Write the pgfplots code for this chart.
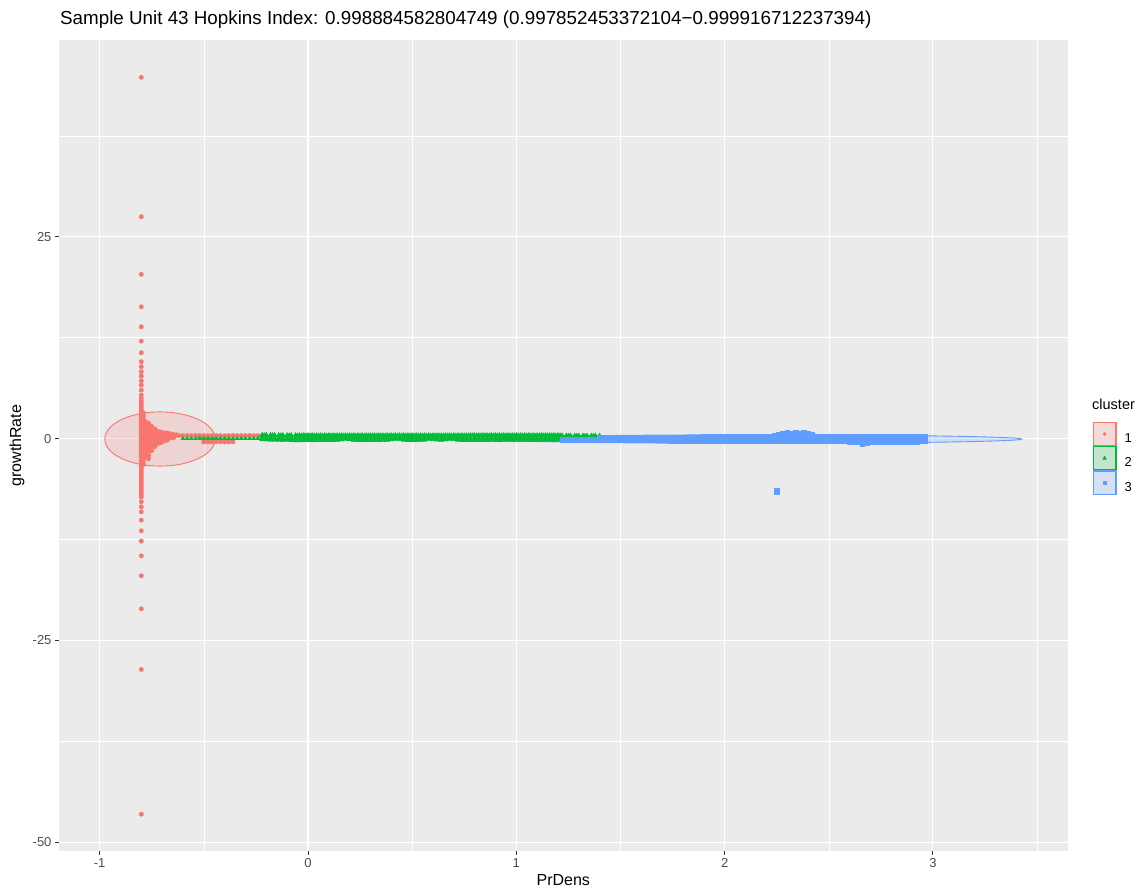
\documentclass[border=0pt]{standalone}
\usepackage{fontspec}
\setmainfont{Liberation Sans}
\usepackage{pgfplots}
\usepackage{pgfplotstable}
\pgfplotsset{compat=1.18}

\definecolor{c1}{HTML}{F8766D}
\definecolor{c2}{HTML}{00BA38}
\definecolor{c3}{HTML}{619CFF}
\definecolor{panel}{HTML}{EBEBEB}
\definecolor{keybg}{HTML}{F2F2F2}
\definecolor{ticktext}{HTML}{4D4D4D}
\definecolor{tickline}{HTML}{333333}

% cluster 1: the tall column at PrDens ~ -0.8, its core and the short tails
\pgfplotstableread{
x y
-0.80 44.76
-0.80 27.48
-0.80 20.35
-0.80 16.33
-0.80 13.85
-0.80 12.08
-0.80 10.63
-0.80 9.52
-0.80 8.90
-0.80 8.28
-0.80 7.74
-0.80 7.16
-0.80 6.63
-0.80 6.01
-0.80 5.39
-0.80 5.0
-0.80 4.7
-0.80 4.4
-0.80 4.1
-0.80 3.8
-0.80 3.5
-0.80 3.2
-0.80 2.9
-0.80 2.6
-0.80 2.3
-0.80 2.0
-0.80 1.7
-0.80 1.4
-0.80 1.1
-0.80 0.8
-0.80 0.5
-0.80 0.2
-0.80 -0.1
-0.80 -0.4
-0.80 -0.7
-0.80 -1.0
-0.80 -1.3
-0.80 -1.6
-0.80 -1.9
-0.80 -2.2
-0.80 -2.5
-0.80 -2.8
-0.80 -3.1
-0.80 -3.4
-0.80 -3.7
-0.80 -4.0
-0.80 -4.3
-0.80 -4.6
-0.80 -4.9
-0.80 -5.2
-0.80 -5.5
-0.80 -5.8
-0.80 -6.1
-0.80 -6.4
-0.80 -6.7
-0.80 -7.0
-0.80 -7.25
-0.80 -7.83
-0.80 -8.45
-0.80 -9.07
-0.80 -10.10
-0.80 -11.43
-0.80 -12.70
-0.80 -14.52
-0.80 -17.00
-0.80 -21.09
-0.80 -28.60
-0.80 -46.53
-0.79 3.2
-0.79 2.8
-0.79 2.4
-0.79 2.0
-0.79 1.6
-0.79 1.2
-0.79 0.8
-0.79 0.4
-0.79 0.0
-0.79 -0.4
-0.79 -0.8
-0.79 -1.2
-0.79 -1.6
-0.79 -2.0
-0.79 -2.4
-0.79 -2.8
-0.79 -3.2
-0.780 2.1
-0.780 1.7
-0.780 1.3
-0.780 0.9
-0.780 0.5
-0.780 0.1
-0.780 -0.3
-0.780 -0.7
-0.780 -1.1
-0.780 -1.5
-0.780 -1.9
-0.780 -2.3
-0.765 1.9
-0.765 1.4
-0.765 0.9
-0.765 0.4
-0.765 -0.1
-0.765 -0.6
-0.765 -1.1
-0.765 -1.6
-0.765 -2.1
-0.765 -2.5
-0.750 1.5
-0.750 1.0
-0.750 0.5
-0.750 0.0
-0.750 -0.5
-0.750 -1.0
-0.750 -1.5
-0.735 1.2
-0.735 0.7
-0.735 0.2
-0.735 -0.3
-0.735 -0.8
-0.735 -1.0
-0.720 0.9
-0.720 0.4
-0.720 -0.1
-0.720 -0.6
-0.705 0.8
-0.705 0.3
-0.705 -0.2
-0.705 -0.5
-0.690 0.7
-0.690 0.2
-0.690 -0.3
-0.675 0.7
-0.675 0.2
-0.675 -0.2
-0.660 0.6
-0.660 0.1
-0.645 0.5
-0.645 0.1
-0.630 0.45
-0.62 0.38
-0.60 0.37
-0.58 0.38
-0.56 0.36
-0.54 0.37
-0.52 0.38
-0.50 0.37
-0.48 0.36
-0.46 0.37
-0.44 0.38
-0.42 0.37
-0.40 0.36
-0.38 0.37
-0.36 0.38
-0.34 0.37
-0.32 0.36
-0.30 0.37
-0.28 0.38
-0.26 0.37
-0.24 0.37
-0.50 -0.40
-0.48 -0.41
-0.46 -0.40
-0.44 -0.39
-0.42 -0.40
-0.40 -0.41
-0.38 -0.40
-0.36 -0.40
}\clusterone

% cluster 2: thin lead-in, then the band in rows (top, middle, bottom)
\pgfplotstableread{
x y
-0.60 0.00
-0.58 0.00
-0.56 0.01
-0.54 0.00
-0.52 0.00
-0.50 -0.01
-0.48 0.00
-0.46 0.00
-0.44 0.01
-0.42 0.00
-0.40 0.00
-0.38 0.00
-0.36 -0.01
-0.34 0.00
-0.32 0.00
-0.30 0.01
-0.28 0.00
-0.26 0.00
-0.24 0.00
}\clustertwolead

\pgfplotstableread{
x t m b
-0.22 0.44 0.12 -0.10
-0.20 0.44 0.12 -0.12
-0.18 0.43 0.11 -0.15
-0.16 0.43 0.11 -0.17
-0.14 0.42 0.11 -0.19
-0.12 0.42 0.10 -0.20
-0.10 0.41 0.10 -0.15
-0.08 0.41 0.10 -0.22
-0.06 0.40 0.10 -0.23
-0.04 0.40 0.10 -0.23
-0.02 0.40 0.09 -0.22
0.00 0.40 0.09 -0.22
0.02 0.40 0.09 -0.23
0.04 0.39 0.09 -0.22
0.06 0.39 0.09 -0.22
0.08 0.39 0.09 -0.21
0.10 0.39 0.09 -0.22
0.12 0.39 0.09 -0.21
0.14 0.39 0.09 -0.20
0.16 0.39 0.09 -0.12
0.18 0.39 0.09 -0.05
0.20 0.39 0.09 -0.09
0.22 0.39 0.09 -0.20
0.24 0.39 0.09 -0.21
0.26 0.39 0.09 -0.22
0.28 0.39 0.09 -0.22
0.30 0.39 0.09 -0.21
0.32 0.39 0.09 -0.22
0.34 0.39 0.09 -0.21
0.36 0.39 0.09 -0.20
0.38 0.39 0.09 -0.18
0.40 0.39 0.09 -0.10
0.42 0.39 0.09 -0.04
0.44 0.39 0.09 -0.08
0.46 0.39 0.09 -0.19
0.48 0.39 0.09 -0.21
0.50 0.39 0.09 -0.22
0.52 0.39 0.09 -0.21
0.54 0.39 0.09 -0.20
0.56 0.39 0.09 -0.15
0.58 0.39 0.09 -0.05
0.60 0.39 0.09 -0.06
0.62 0.39 0.09 -0.16
0.64 0.39 0.09 -0.20
0.66 0.39 0.09 -0.12
0.68 0.39 0.09 -0.04
0.70 0.39 0.09 -0.08
0.72 0.39 0.09 -0.19
0.74 0.39 0.09 -0.21
0.76 0.39 0.09 -0.22
0.78 0.40 0.09 -0.21
0.80 0.40 0.09 -0.21
0.82 0.40 0.09 -0.22
0.84 0.40 0.09 -0.21
0.86 0.40 0.09 -0.21
0.88 0.40 0.09 -0.20
0.90 0.40 0.09 -0.21
0.92 0.40 0.09 -0.21
0.94 0.40 0.09 -0.20
0.96 0.40 0.09 -0.20
0.98 0.40 0.09 -0.21
1.00 0.40 0.09 -0.20
1.02 0.40 0.09 -0.20
1.04 0.40 0.09 -0.20
1.06 0.40 0.09 -0.19
1.08 0.40 0.09 -0.20
1.10 0.40 0.09 -0.19
1.12 0.40 0.09 -0.19
1.14 0.40 0.09 -0.19
1.16 0.40 0.09 -0.18
1.18 0.40 0.09 -0.18
1.20 0.40 0.09 -0.17
1.22 0.38 0.12 nan
1.24 0.36 nan nan
1.26 0.36 nan nan
1.28 0.35 nan nan
1.30 0.35 nan nan
1.32 0.35 nan nan
1.34 0.34 nan nan
1.36 0.34 nan nan
1.38 0.34 nan nan
1.40 0.33 nan nan
}\clustertwo

% cluster 2: second top row, staggered between the first
\pgfplotstableread{
x y
-0.21 0.40
-0.17 0.39
-0.13 0.38
-0.09 0.37
-0.05 0.36
-0.03 0.36
-0.01 0.36
0.01 0.36
0.03 0.36
0.05 0.36
0.07 0.36
0.09 0.36
0.11 0.36
0.13 0.36
0.15 0.36
0.17 0.36
0.19 0.36
0.21 0.36
0.23 0.36
0.25 0.36
0.27 0.36
0.29 0.36
0.31 0.36
0.33 0.36
0.35 0.36
0.37 0.36
0.39 0.36
0.41 0.36
0.43 0.36
0.45 0.36
0.47 0.36
0.49 0.36
0.51 0.36
0.53 0.36
0.55 0.36
0.57 0.36
0.59 0.36
0.61 0.36
0.63 0.36
0.65 0.36
0.67 0.36
0.69 0.36
0.71 0.36
0.73 0.36
0.75 0.36
0.77 0.37
0.79 0.37
0.81 0.37
0.83 0.37
0.85 0.37
0.87 0.37
0.89 0.37
0.91 0.37
0.93 0.37
0.95 0.37
0.97 0.37
0.99 0.37
1.01 0.37
1.03 0.37
1.05 0.37
1.07 0.37
1.09 0.37
1.11 0.37
1.13 0.37
1.15 0.37
1.17 0.37
1.19 0.37
1.21 0.36
1.25 0.33
1.29 0.32
1.33 0.31
1.37 0.31
}\clustertwotop

% cluster 3: the band in three rows, plus one outlier
\pgfplotstableread{
x t m b
1.22 nan -0.06 -0.18
1.24 nan -0.06 -0.18
1.26 nan -0.06 -0.18
1.28 nan -0.06 -0.18
1.30 nan -0.06 -0.18
1.32 nan -0.06 -0.18
1.34 nan -0.06 -0.18
1.36 nan -0.06 -0.18
1.38 nan -0.06 -0.18
1.40 0.08 nan -0.15
1.42 0.08 nan -0.15
1.44 0.08 nan -0.15
1.46 0.08 nan -0.15
1.48 0.08 nan -0.15
1.50 0.08 nan -0.15
1.52 0.08 nan -0.15
1.54 0.09 nan -0.15
1.56 0.09 nan -0.15
1.58 0.09 nan -0.16
1.60 0.09 nan -0.16
1.62 0.10 nan -0.16
1.64 0.10 nan -0.16
1.66 0.10 nan -0.17
1.68 0.11 nan -0.17
1.70 0.11 nan -0.18
1.72 0.12 nan -0.19
1.74 0.12 nan -0.20
1.76 0.14 0.00 -0.21
1.78 0.15 0.00 -0.23
1.80 0.16 0.00 -0.24
1.82 0.16 0.00 -0.25
1.84 0.17 0.00 -0.25
1.86 0.18 0.00 -0.26
1.88 0.19 0.00 -0.26
1.90 0.24 0.00 -0.27
1.92 0.24 0.00 -0.27
1.94 0.23 0.00 -0.27
1.96 0.24 0.00 -0.27
1.98 0.24 0.00 -0.28
2.00 0.23 0.00 -0.27
2.02 0.24 0.00 -0.27
2.04 0.24 0.00 -0.27
2.06 0.25 0.00 -0.27
2.08 0.24 0.00 -0.28
2.10 0.24 0.00 -0.27
2.12 0.24 0.00 -0.27
2.14 0.25 0.00 -0.27
2.16 0.24 0.00 -0.27
2.18 0.24 0.00 -0.27
2.20 0.25 0.00 -0.28
2.22 0.26 0.00 -0.27
2.24 0.32 0.00 -0.27
2.26 0.48 0.02 -0.27
2.28 0.62 0.04 -0.27
2.30 0.76 0.05 -0.27
2.32 0.60 0.04 -0.27
2.34 0.76 0.05 -0.27
2.36 0.60 0.04 -0.27
2.38 0.74 0.05 -0.27
2.40 0.62 0.04 -0.27
2.42 0.45 0.02 -0.27
2.44 0.28 0.00 -0.27
2.46 0.26 0.00 -0.28
2.48 0.25 0.00 -0.27
2.50 0.24 0.00 -0.27
2.52 0.25 0.00 -0.28
2.54 0.26 0.00 -0.28
2.56 0.26 0.00 -0.29
2.58 0.26 -0.02 -0.31
2.60 0.26 -0.05 -0.33
2.62 0.26 -0.05 -0.35
2.64 0.26 -0.05 -0.44
2.66 0.26 -0.05 -0.58
2.68 0.26 -0.05 -0.47
2.70 0.26 -0.05 -0.34
2.72 0.26 -0.05 -0.33
2.74 0.27 -0.05 -0.33
2.76 0.27 -0.05 -0.33
2.78 0.26 -0.05 -0.33
2.80 0.26 -0.05 -0.33
2.82 0.27 -0.05 -0.32
2.84 0.26 -0.05 -0.33
2.86 0.26 -0.05 -0.33
2.88 0.26 -0.05 -0.32
2.90 0.25 -0.05 -0.32
2.92 0.25 -0.05 -0.32
2.94 0.24 -0.05 -0.31
2.96 0.23 -0.05 -0.30
}\clusterthree

\pgfplotsset{
  red pts/.style={forget plot, only marks, mark=*, color=c1, mark size=2.3pt,
    mark options={fill=c1, draw=c1, line width=0.2pt}},
  green pts/.style={forget plot, only marks, mark=triangle*, color=c2, mark size=3.0pt,
    mark options={fill=c2, draw=c2, line width=0.2pt}},
  blue pts/.style={forget plot, only marks, mark=square*, color=c3, mark size=2.45pt,
    mark options={fill=c3, draw=c3, line width=0.2pt}},
}

\begin{document}
\begin{tikzpicture}[x=1pt,y=1pt]
\useasboundingbox (0,0) rectangle (1144,893);
\fill[white] (0,0) rectangle (1144,893);
\begin{axis}[
  at={(59pt,42pt)}, anchor=south west,
  width=1008.5pt, height=810.5pt, scale only axis,
  xmin=-1.195, xmax=3.646, ymin=-51.09, ymax=49.32,
  axis background/.style={fill=panel},
  axis line style={draw=none},
  xtick={-1,0,1,2,3}, xticklabels={-1,0,1,2,3},
  ytick={-50,-25,0,25}, yticklabels={-50,-25,0,25},
  minor xtick={-0.5,0.5,1.5,2.5,3.5},
  minor ytick={-37.5,-12.5,12.5,37.5},
  grid=both,
  major grid style={white, line width=1.1pt},
  minor grid style={white, line width=0.55pt},
  xtick pos=bottom, ytick pos=left,
  tick align=outside, major tick length=4pt, minor tick length=0pt,
  tick style={tickline, line width=0.9pt},
  ticklabel style={font=\fontsize{13}{13}\selectfont, text=ticktext},
  every axis x label/.style={at={(axis description cs:0.5,-0.0358)}, anchor=center},
  every axis y label/.style={at={(axis description cs:-0.0416,0.5)}, anchor=center, rotate=90},
  label style={font=\fontsize{16}{16}\selectfont},
  xlabel={PrDens}, ylabel={growthRate},
  unbounded coords=discard,
  legend style={at={(1.0250,0.5297)}, anchor=north west, draw=none, fill=none,
    inner sep=0pt, outer sep=0pt, row sep=0pt,
    font=\fontsize{13}{13}\selectfont, nodes={inner sep=0pt, outer sep=0pt}},
]
% confidence ellipses, drawn beneath the points
\draw[c1, line width=0.9pt, fill=c1, fill opacity=0.2] (axis cs:-0.71,-0.05) ellipse [x radius=0.265, y radius=3.36];
\draw[c2, line width=0.9pt, fill=c2, fill opacity=0.2] (axis cs:0.42,0.12) ellipse [x radius=0.95, y radius=0.30];
\draw[c3, line width=0.9pt, fill=c3, fill opacity=0.2] (axis cs:2.15,-0.06) ellipse [x radius=1.276, y radius=0.53];

\addplot[red pts] table[x=x, y=y] {\clusterone};

\addplot[green pts, mark size=2.5pt] table[x=x, y=y] {\clustertwolead};
\addplot[green pts] table[x=x, y=t] {\clustertwo};
\addplot[green pts] table[x=x, y=y] {\clustertwotop};
\addplot[green pts] table[x=x, y=m] {\clustertwo};
\addplot[green pts] table[x=x, y=b] {\clustertwo};

\addplot[blue pts] table[x=x, y=t] {\clusterthree};
\addplot[blue pts] table[x=x, y=m] {\clusterthree};
\addplot[blue pts] table[x=x, y=b] {\clusterthree};
\addplot[blue pts, mark size=2.9pt] coordinates {(2.25,-6.5)};

% legend keys: tinted box with the cluster's outline and marker
\addlegendimage{legend image code/.code={
  \fill[keybg] (0pt,-7.35pt) rectangle (23.3pt,16.65pt);
  \fill[c1, fill opacity=0.2] (0pt,-7.35pt) rectangle (23.3pt,16.65pt);
  \draw[c1, line width=0.9pt] (0.45pt,-6.9pt) rectangle (22.85pt,16.2pt);
  \draw[c1] plot[mark=*, mark size=1.6pt, mark options={draw=c1, fill=c1}] coordinates {(11.65pt,4.65pt)};
  \path (0pt,0pt) (31.5pt,0pt);
}}
\addlegendimage{legend image code/.code={
  \fill[keybg] (0pt,-7.35pt) rectangle (23.3pt,16.65pt);
  \fill[c2, fill opacity=0.2] (0pt,-7.35pt) rectangle (23.3pt,16.65pt);
  \draw[c2, line width=0.9pt] (0.45pt,-6.9pt) rectangle (22.85pt,16.2pt);
  \draw[c2] plot[mark=triangle*, mark size=2.2pt, mark options={draw=c2, fill=c2}] coordinates {(11.65pt,4.65pt)};
  \path (0pt,0pt) (31.5pt,0pt);
}}
\addlegendimage{legend image code/.code={
  \fill[keybg] (0pt,-7.35pt) rectangle (23.3pt,16.65pt);
  \fill[c3, fill opacity=0.2] (0pt,-7.35pt) rectangle (23.3pt,16.65pt);
  \draw[c3, line width=0.9pt] (0.45pt,-6.9pt) rectangle (22.85pt,16.2pt);
  \draw[c3] plot[mark=square*, mark size=1.6pt, mark options={draw=c3, fill=c3}] coordinates {(11.65pt,4.65pt)};
  \path (0pt,0pt) (31.5pt,0pt);
}}
\legend{1,2,3}
\end{axis}
\node[anchor=base west, inner sep=0pt, font=\fontsize{18.8}{19}\selectfont] at (60,868)
  {Sample Unit 43 Hopkins Index: 0.998884582804749 (0.997852453372104−0.999916712237394)};
\node[anchor=west, inner sep=0pt, font=\fontsize{14.5}{14.5}\selectfont] at (1092,489) {cluster};
\end{tikzpicture}
\end{document}
